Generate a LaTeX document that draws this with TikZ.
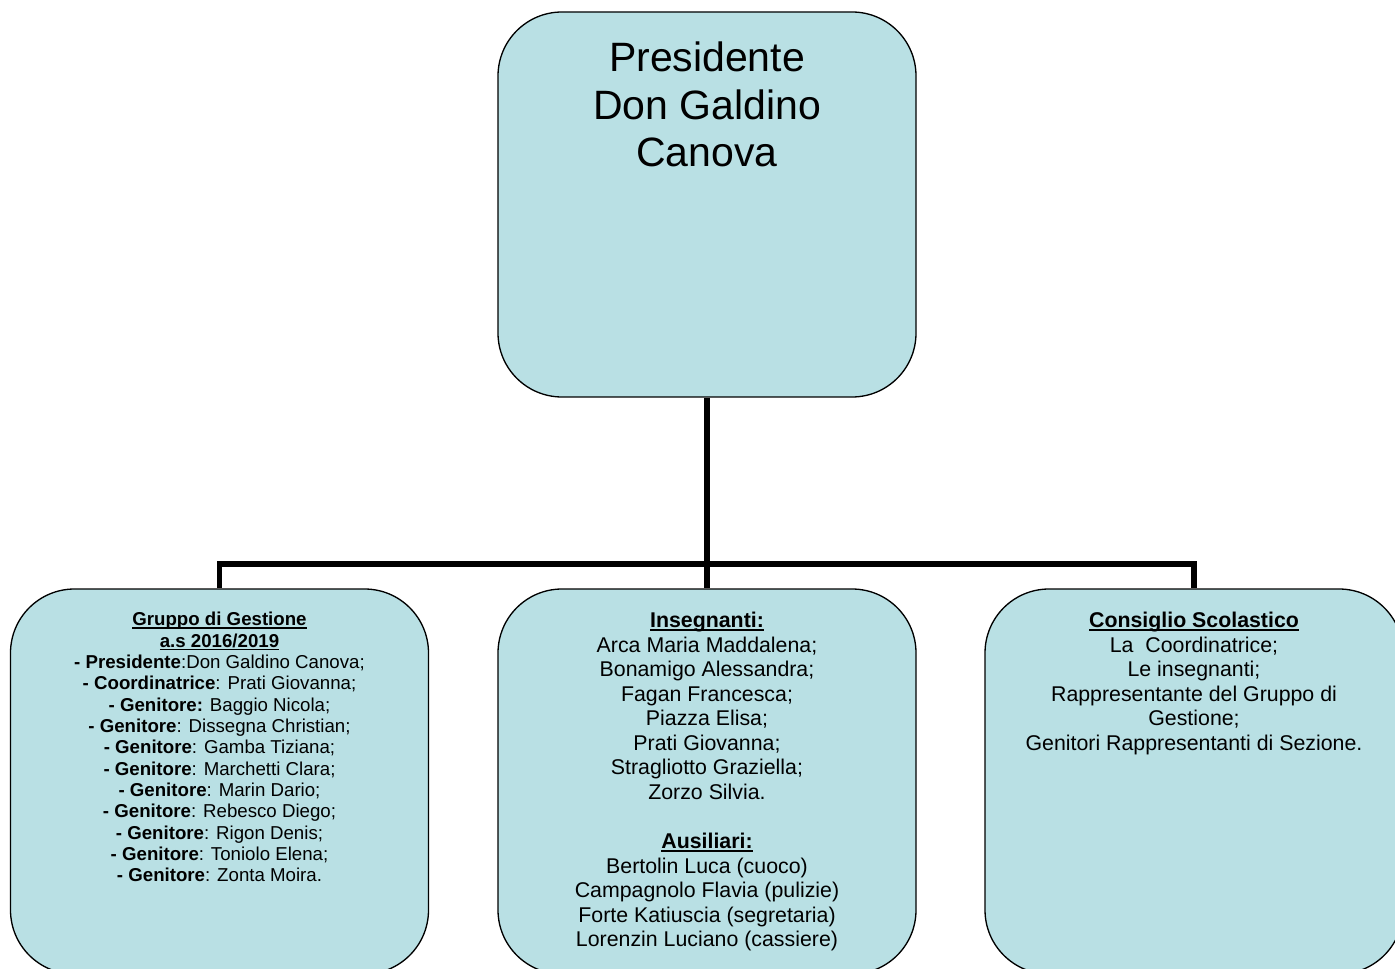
\documentclass[tikz,border=0pt]{standalone}
\usepackage{fontspec}
\setmainfont{Liberation Sans}
\usepackage{xcolor}

\definecolor{boxfill}{RGB}{185,224,228}
\newcommand{\ulhead}[1]{\textbf{\setbox0\hbox{#1}\rlap{\rule[-0.15em]{\wd0}{0.075em}}\box0}}

\begin{document}
\begin{tikzpicture}[x=0.75pt,y=-0.75pt,
    box/.style={draw=black,line width=1pt,fill=boxfill,rounded corners=48pt,
      minimum width=313.5pt,minimum height=288.75pt,inner sep=0pt},
    txt/.style={anchor=north,align=center,inner sep=0pt},
    link/.style={line width=4.2pt,black}]
        \useasboundingbox (0,0) rectangle (1395,969);
        \node[box] (pres) at (707,204.5) {};
        \node[box] (gest) at (219.5,781.5) {};
        \node[box] (ins) at (707,781.5) {};
        \node[box] (cons) at (1194,781.5) {};
        \coordinate (bus) at (707,564);
        \draw[link] (pres.south) -- (bus);
        \draw[link] (gest.north) |- (bus) -| (cons.north);
        \draw[link] (bus) -- (ins.north);
        \node[txt,font=\fontsize{30.75}{35.6}\selectfont] (pres-txt) at (707,42)
          {Presidente\\Don Galdino\\Canova};
        \node[txt,font=\fontsize{14}{16}\selectfont] (gest-txt) at (219.5,612)
          {\ulhead{Gruppo di Gestione}\\
           \ulhead{a.s 2016/2019}\\
           \textbf{- Presidente}:Don Galdino Canova;\\
           \textbf{- Coordinatrice}: Prati Giovanna;\\
           \textbf{- Genitore:} Baggio Nicola;\\
           \textbf{- Genitore}: Dissegna Christian;\\
           \textbf{- Genitore}: Gamba Tiziana;\\
           \textbf{- Genitore}: Marchetti Clara;\\
           \textbf{- Genitore}: Marin Dario;\\
           \textbf{- Genitore}: Rebesco Diego;\\
           \textbf{- Genitore}: Rigon Denis;\\
           \textbf{- Genitore}: Toniolo Elena;\\
           \textbf{- Genitore}: Zonta Moira.};
        \node[txt,font=\fontsize{16}{18.4}\selectfont] (ins-txt) at (707,612)
          {\ulhead{Insegnanti:}\\
           Arca Maria Maddalena;\\
           Bonamigo Alessandra;\\
           Fagan Francesca;\\
           Piazza Elisa;\\
           Prati Giovanna;\\
           Stragliotto Graziella;\\
           Zorzo Silvia.\\[18.4pt]
           \ulhead{Ausiliari:}\\
           Bertolin Luca (cuoco)\\
           Campagnolo Flavia (pulizie)\\
           Forte Katiuscia (segretaria)\\
           Lorenzin Luciano (cassiere)};
        \node[txt,font=\fontsize{16}{18.4}\selectfont] (cons-txt) at (1194,612)
          {\ulhead{Consiglio Scolastico}\\
           La~~Coordinatrice;\\
           Le insegnanti;\\
           Rappresentante del Gruppo di\\
           Gestione;\\
           Genitori Rappresentanti di Sezione.};
      \end{tikzpicture}
\end{document}
